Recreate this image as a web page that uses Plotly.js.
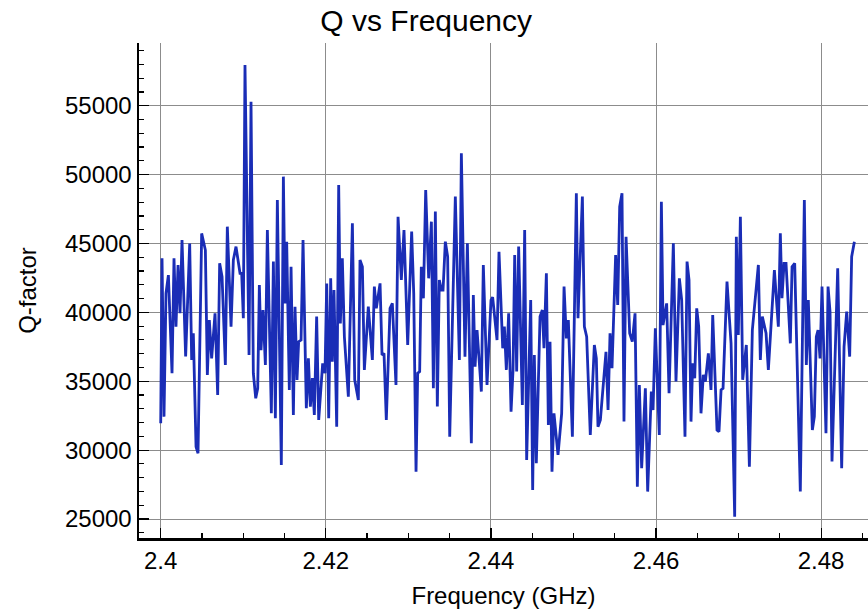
<!DOCTYPE html>
<html>
<head>
<meta charset="utf-8">
<script src="https://cdn.plot.ly/plotly-3.0.1.min.js"></script>
<style>html,body{margin:0;padding:0;background:#fff;}#chart{width:868px;height:615px;}</style>
</head>
<body>
<div id="chart"></div>
<script>
// Frequency (GHz)
const freq = [
2.40000,2.40016,2.40040,2.40064,2.40093,2.40137,2.40161,2.40185,2.40210,2.40234,
2.40258,2.40302,2.40351,2.40375,2.40395,2.40428,2.40452,2.40496,2.40541,2.40565,
2.40589,2.40617,2.40658,2.40690,2.40714,2.40743,2.40783,2.40807,2.40852,2.40880,
2.40912,2.40961,2.40981,2.41001,2.41021,2.41070,2.41094,2.41122,2.41151,2.41175,
2.41195,2.41215,2.41239,2.41268,2.41292,2.41340,2.41365,2.41389,2.41413,2.41461,
2.41486,2.41506,2.41526,2.41558,2.41579,2.41607,2.41627,2.41651,2.41671,2.41700,
2.41724,2.41764,2.41789,2.41813,2.41837,2.41861,2.41889,2.41914,2.41962,2.41990,
2.42011,2.42035,2.42059,2.42079,2.42099,2.42132,2.42156,2.42176,2.42200,2.42225,
2.42273,2.42322,2.42350,2.42394,2.42414,2.42443,2.42467,2.42515,2.42564,2.42588,
2.42612,2.42657,2.42681,2.42705,2.42733,2.42778,2.42806,2.42850,2.42875,2.42915,
2.42947,2.42992,2.43040,2.43065,2.43093,2.43113,2.43137,2.43157,2.43182,2.43210,
2.43246,2.43279,2.43303,2.43327,2.43351,2.43375,2.43400,2.43420,2.43448,2.43476,
2.43501,2.43569,2.43618,2.43642,2.43686,2.43715,2.43763,2.43787,2.43808,2.43832,
2.43884,2.43908,2.43953,2.44001,2.44021,2.44074,2.44098,2.44143,2.44163,2.44187,
2.44215,2.44244,2.44268,2.44288,2.44312,2.44336,2.44381,2.44409,2.44433,2.44482,
2.44506,2.44526,2.44550,2.44595,2.44623,2.44643,2.44672,2.44696,2.44716,2.44740,
2.44764,2.44813,2.44857,2.44886,2.44914,2.44938,2.44987,2.45035,2.45055,2.45108,
2.45132,2.45160,2.45204,2.45253,2.45277,2.45297,2.45326,2.45394,2.45419,2.45443,
2.45467,2.45511,2.45536,2.45560,2.45588,2.45612,2.45637,2.45681,2.45713,2.45746,
2.45758,2.45774,2.45798,2.45826,2.45871,2.45899,2.45943,2.45964,2.45992,2.46040,
2.46065,2.46085,2.46129,2.46158,2.46210,2.46242,2.46283,2.46311,2.46351,2.46376,
2.46400,2.46424,2.46444,2.46469,2.46493,2.46517,2.46545,2.46573,2.46598,2.46634,
2.46666,2.46687,2.46739,2.46763,2.46788,2.46812,2.46860,2.46909,2.46953,2.46973,
2.46997,2.47022,2.47050,2.47094,2.47131,2.47167,2.47240,2.47264,2.47288,2.47333,
2.47361,2.47393,2.47434,2.47482,2.47506,2.47526,2.47551,2.47575,2.47603,2.47627,
2.47648,2.47680,2.47748,2.47797,2.47821,2.47845,2.47894,2.47918,2.47942,2.47963,
2.47987,2.48011,2.48059,2.48084,2.48108,2.48132,2.48201,2.48249,2.48278,2.48310,
2.48346,2.48370,2.48403
];
// Q-factor
const qFactor = [
31950,43920,32430,41380,42700,35580,43920,38960,43440,39930,
45250,36800,45000,36540,38480,30250,29770,45730,44520,35450,
39440,36660,39930,34000,43560,42590,36180,46220,38960,43800,
44770,42830,42830,39570,57950,36900,55290,35580,33760,34490,
41990,37260,40170,36180,45980,32670,43680,32310,48150,28920,
49850,40650,45130,34370,43310,32550,40410,35100,37870,37990,
45250,33040,36660,33160,35220,32550,39690,32190,36300,35580,
42100,32310,42470,36420,41620,31700,49250,39200,43920,38230,
33880,46460,35100,33640,43800,43310,35820,40410,36540,41870,
40290,42100,36900,37020,32190,40290,40650,34730,46940,42350,
45980,37630,45860,41380,28440,35580,35700,43310,41020,48880,
42470,46580,34490,47310,33160,42350,41620,41620,45130,44040,
30980,48400,36540,51540,36780,45010,30500,41260,36060,38720,
34250,43440,34730,40890,41100,37990,44400,37390,38960,35820,
39930,32790,35820,44160,35700,44770,33280,45980,29290,40890,
27110,36900,29050,39690,40170,37390,42830,31820,37870,28440,
32670,29650,32670,41870,38110,39440,30980,48640,39570,48400,
38960,38230,31100,37630,36660,31700,32190,37140,32910,38480,
35940,44160,40530,47670,48640,32070,45490,38480,37870,39930,
34610,27350,34730,28680,34490,26990,34250,32910,38840,31100,
48030,39080,40650,34130,45010,34980,42470,40890,30980,43680,
42350,32070,36300,35220,40290,38960,32670,35460,34980,37020,
34370,39810,31460,31340,34370,34490,42230,37750,25170,45490,
38360,46940,35100,37630,28800,38720,43440,36540,39690,38480,
35820,38960,43070,38960,45730,41020,43560,43560,39930,37750,
43310,43560,26990,48150,36180,40890,31460,32430,38230,38720,
36660,41870,31220,41870,40050,29170,43200,28680,37510,40050,
36780,44040,45130
];
const xTicks = [2.4, 2.42, 2.44, 2.46, 2.48];
const xTickText = ['2.4', '2.42', '2.44', '2.46', '2.48'];
const yTicks = [25000, 30000, 35000, 40000, 45000, 50000, 55000];

const FONT = 'Liberation Sans, Arial, Helvetica, sans-serif';

const trace = {
  x: freq, y: qFactor, type: 'scatter', mode: 'lines',
  line: {color: '#1a2db6', width: 2.8},
  hoverinfo: 'skip'
};

const layout = {
  width: 868, height: 615,
  margin: {l: 139, r: 0, t: 43, b: 77, pad: 0},
  paper_bgcolor: '#ffffff', plot_bgcolor: '#ffffff',
  showlegend: false,
  font: {family: FONT, color: '#000', size: 24},
  title: {text: 'Q vs Frequency', font: {family: FONT, size: 30, color: '#000'},
          xref: 'container', x: 0.491, xanchor: 'center', yref: 'container', y: 0.966, yanchor: 'middle'},
  xaxis: {
    range: [2.39737, 2.48568], tickmode: 'array', tickvals: xTicks, ticktext: xTickText,
    ticks: 'inside', ticklen: 10, tickwidth: 1.2, tickcolor: '#000',
    showline: true, linecolor: '#000', linewidth: 2.5,
    showgrid: true, gridcolor: '#8c8c8c', gridwidth: 1, zeroline: false,
    tickfont: {family: FONT, size: 24, color: '#000'},
    minor: {dtick: 0.005, tick0: 2.4, ticks: 'inside', ticklen: 5, tickwidth: 1.2, tickcolor: '#000', showgrid: false},
    title: {text: 'Frequency (GHz)', font: {family: FONT, size: 24, color: '#000'}, standoff: 14}
  },
  yaxis: {
    range: [23621, 59550], tickmode: 'array', tickvals: yTicks, tickformat: 'd',
    ticks: 'inside', ticklen: 10, tickwidth: 1.2, tickcolor: '#000',
    showline: true, linecolor: '#000', linewidth: 2.5,
    showgrid: true, gridcolor: '#8c8c8c', gridwidth: 1, zeroline: false,
    tickfont: {family: FONT, size: 24, color: '#000'},
    minor: {dtick: 1000, tick0: 0, ticks: 'inside', ticklen: 5, tickwidth: 1.2, tickcolor: '#000', showgrid: false},
    title: {text: 'Q-factor', font: {family: FONT, size: 24, color: '#000'}, standoff: 22}
  }
};

Plotly.newPlot('chart', [trace], layout, {displayModeBar: false, staticPlot: true});
</script>
</body>
</html>
